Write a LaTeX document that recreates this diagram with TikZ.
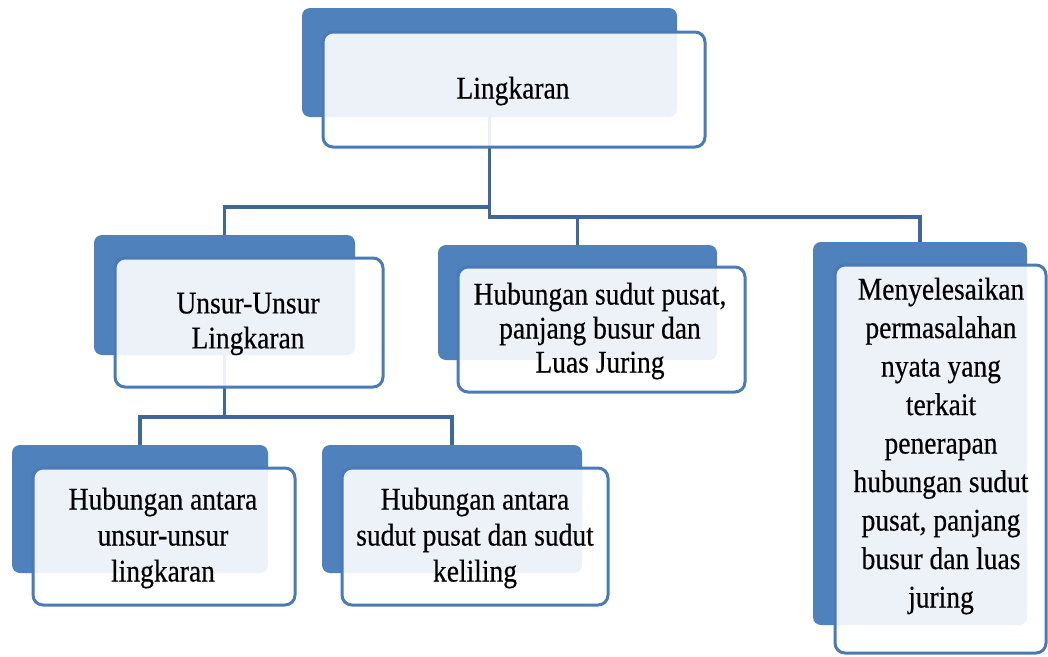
\documentclass[tikz,border=0pt]{standalone}
\usepackage{fontspec}
\setmainfont{Liberation Serif}
\newfontfamily\diagfont[FakeStretch=0.873, FakeBold=0.4]{Liberation Serif}
\definecolor{boxblue}{HTML}{4F81BD}
\definecolor{edgeblue}{HTML}{4A7BB7}
\definecolor{connblue}{HTML}{3F679B}
\tikzset{
  backbox/.style={rectangle, rounded corners=8pt, fill=boxblue, draw=none, inner sep=0pt, outer sep=0pt},
  frontbox/.style={rectangle, rounded corners=10pt, fill=white, fill opacity=0.9, draw=edgeblue, draw opacity=1, line width=3pt, inner sep=0pt, outer sep=0pt},
  txt/.style={align=center, text=black, text opacity=1, font=\diagfont\fontsize{31.5}{35}\selectfont, inner sep=0pt},
  conn/.style={draw=connblue, line width=3.4pt}
}
\begin{document}
\begin{tikzpicture}[x=1pt,y=-1pt]
\useasboundingbox (0,0) rectangle (1048,656);
% back boxes
\node[backbox, minimum width=375pt, minimum height=109pt] (b0) at (489.5,62.5) {};
\node[backbox, minimum width=261pt, minimum height=120pt] (bU) at (224.5,295) {};
\node[backbox, minimum width=279pt, minimum height=115pt] (bH) at (577.5,302.5) {};
\node[backbox, minimum width=214pt, minimum height=383pt] (bM) at (920,433.5) {};
\node[backbox, minimum width=256pt, minimum height=128pt] (bL) at (140,509) {};
\node[backbox, minimum width=260pt, minimum height=128pt] (bR) at (452,509) {};
% bus coordinates
\coordinate (busL) at (0,207);
\coordinate (busR) at (0,217);
\coordinate (busU) at (0,417);
% connectors
\draw[conn] (b0.south) -- (b0.south |- busL) -| (bU.north);
\draw[conn] (b0.south |- busL) -- (b0.south |- busR) -| (bH.north);
\draw[conn] (b0.south |- busR) -| (bM.north);
\draw[conn] (bU.south) -- (bU.south |- busU) -| (bL.north);
\draw[conn] (bU.south |- busU) -| (bR.north);
% front boxes
\node[frontbox, minimum width=382pt, minimum height=115pt] (f0) at (514,89.5) {};
\node[frontbox, minimum width=268pt, minimum height=129pt] (fU) at (249,322.5) {};
\node[frontbox, minimum width=287pt, minimum height=125pt] (fH) at (601.5,329.5) {};
\node[frontbox, minimum width=211pt, minimum height=388pt] (fM) at (940.5,459) {};
\node[frontbox, minimum width=262pt, minimum height=137pt] (fL) at (164,536.5) {};
\node[frontbox, minimum width=266pt, minimum height=137pt] (fR) at (475,536.5) {};
% texts
\node[txt] (t0) at (513,91) {Lingkaran};
\node[txt] (tU) at (248,324) {Unsur-Unsur\\Lingkaran};
\node[txt, font=\diagfont\fontsize{31.5}{34}\selectfont] (tH) at (600,331) {Hubungan sudut pusat,\\panjang busur dan\\Luas Juring};
\node[txt, font=\diagfont\fontsize{31.5}{38.5}\selectfont] (tM) at (941,446) {Menyelesaikan\\permasalahan\\nyata yang\\terkait\\penerapan\\hubungan sudut\\pusat, panjang\\busur dan luas\\juring};
\node[txt, font=\diagfont\fontsize{31.5}{36}\selectfont] (tL) at (163,538) {Hubungan antara\\unsur-unsur\\lingkaran};
\node[txt, font=\diagfont\fontsize{31.5}{36}\selectfont] (tR) at (475,538) {Hubungan antara\\sudut pusat dan sudut\\keliling};
\end{tikzpicture}
\end{document}
